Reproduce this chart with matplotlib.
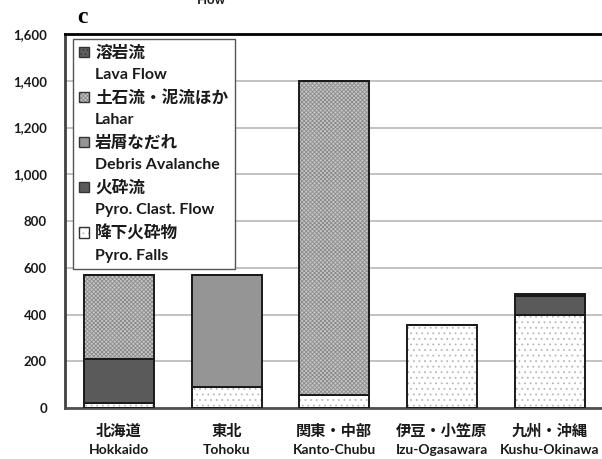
import numpy as np
import matplotlib
matplotlib.use('Agg')
import matplotlib.pyplot as plt
from matplotlib.patches import Patch
from matplotlib.ticker import FuncFormatter

plt.rcParams['font.family'] = ['Lato', 'Noto Sans CJK JP', 'DejaVu Sans']
plt.rcParams['font.weight'] = 'bold'
plt.rcParams['hatch.linewidth'] = 0.6

# regions
regions_jp = ['北海道', '東北', '関東・中部', '伊豆・小笠原', '九州・沖縄']
regions_en = ['Hokkaido', 'Tohoku', 'Kanto-Chubu', 'Izu-Ogasawara', 'Kushu-Okinawa']

# stacked values, bottom to top
pyro_falls = [20, 90, 55, 355, 400]
pyro_clast = [190, 0, 0, 0, 80]
debris = [0, 480, 0, 0, 0]
lahar = [358, 0, 1345, 0, 0]
lava = [0, 0, 0, 0, 9]

labels_jp = ['溶岩流', '土石流・泥流ほか', '岩屑なだれ', '火砕流', '降下火砕物']
labels_en = ['Lava Flow', 'Lahar', 'Debris Avalanche', 'Pyro. Clast. Flow', 'Pyro. Falls']

# face, hatch, hatch colour
styles = {
    'falls': ('white', '...', '#b8b8b8'),
    'clast': ('#5a5a5a', None, '#5a5a5a'),
    'debris': ('#959595', None, '#959595'),
    'lahar': ('#c6c6c6', 'xxxxxxxx', '#8a8a8a'),
    'lava': ('#5e5e5e', '....', '#3a3a3a'),
}

fig = plt.figure(figsize=(6.02, 4.59), dpi=100)
ax = fig.add_axes([65/602, 1-408/459, (603.5-65)/602, (408-34)/459])

x = np.arange(len(regions_jp))
w = 0.65
bottom = np.zeros(len(x))
for key, vals in [('falls', pyro_falls), ('clast', pyro_clast), ('debris', debris),
                  ('lahar', lahar), ('lava', lava)]:
    vals = np.array(vals, dtype=float)
    face, hatch, hcol = styles[key]
    ax.bar(x, vals, w, bottom=bottom, color=face, hatch=hatch, edgecolor=hcol,
           linewidth=0, zorder=2)
    ax.bar(x, vals, w, bottom=bottom, facecolor='none', edgecolor='#1a1a1a',
           linewidth=1.4, zorder=3)
    bottom += vals

ax.set_xlim(-0.5, 4.5)
ax.set_ylim(0, 1600)
ax.set_yticks(np.arange(0, 1601, 200))
ax.yaxis.set_major_formatter(FuncFormatter(lambda v, p: f'{int(v):,}'))
ax.tick_params(axis='y', length=0, pad=13, labelsize=9.5, labelcolor='#1a1a1a')
ax.yaxis.grid(True, color='#b8b8b8', lw=1.2)
ax.set_axisbelow(True)

# japanese names as major labels, english as minor labels underneath
ax.xaxis.remove_overlapping_locs = False
ax.set_xticks(x)
ax.set_xticklabels(regions_jp)
ax.set_xticks(x, minor=True)
ax.set_xticklabels(regions_en, minor=True)
ax.tick_params(axis='x', which='major', length=0, pad=12, labelsize=11, labelcolor='#1a1a1a')
ax.tick_params(axis='x', which='minor', length=0, pad=26, labelsize=10, labelcolor='#1a1a1a')

ax.spines['right'].set_visible(False)
ax.spines['top'].set_color('black')
ax.spines['top'].set_linewidth(2)
ax.spines['left'].set_color('#404040')
ax.spines['left'].set_linewidth(2)
ax.spines['bottom'].set_color('#505050')
ax.spines['bottom'].set_linewidth(2)

# legend: a swatch row in japanese, then a blank-handle row in english
handles = []
labels = []
for key, jp, en in zip(['lava', 'lahar', 'debris', 'clast', 'falls'], labels_jp, labels_en):
    face, hatch, hcol = styles[key]
    fill = Patch(facecolor=face, hatch=hatch, edgecolor=hcol, linewidth=0)
    edge = Patch(facecolor='none', edgecolor='#333333', linewidth=1)
    handles.append((fill, edge))
    labels.append(jp)
    handles.append(Patch(facecolor='none', edgecolor='none'))
    labels.append(en)

leg = ax.legend(handles, labels, loc='upper left',
                bbox_to_anchor=((72.7-65)/538.5, (408-38.5)/374),
                borderaxespad=0, fancybox=False, edgecolor='#555555', framealpha=1,
                handlelength=0.6, handleheight=0.6, handletextpad=0.4,
                labelspacing=0.47, borderpad=0.4, prop={'weight': 'bold', 'size': 11.5})
leg.get_frame().set_linewidth(1)
for i, t in enumerate(leg.get_texts()):
    if i % 2 == 0:
        t.set_fontsize(12)
    t.set_color('#1a1a1a')

fig.text(77/602, 1-22.7/459, 'c', fontsize=17, fontweight='bold',
         family='Liberation Serif', ha='left', va='baseline')
fig.text(211/602, 1-4/459, 'Flow', fontsize=9.5, fontweight='bold',
         ha='center', va='baseline', color='#1a1a1a')

fig.savefig('out.png', dpi=100)
